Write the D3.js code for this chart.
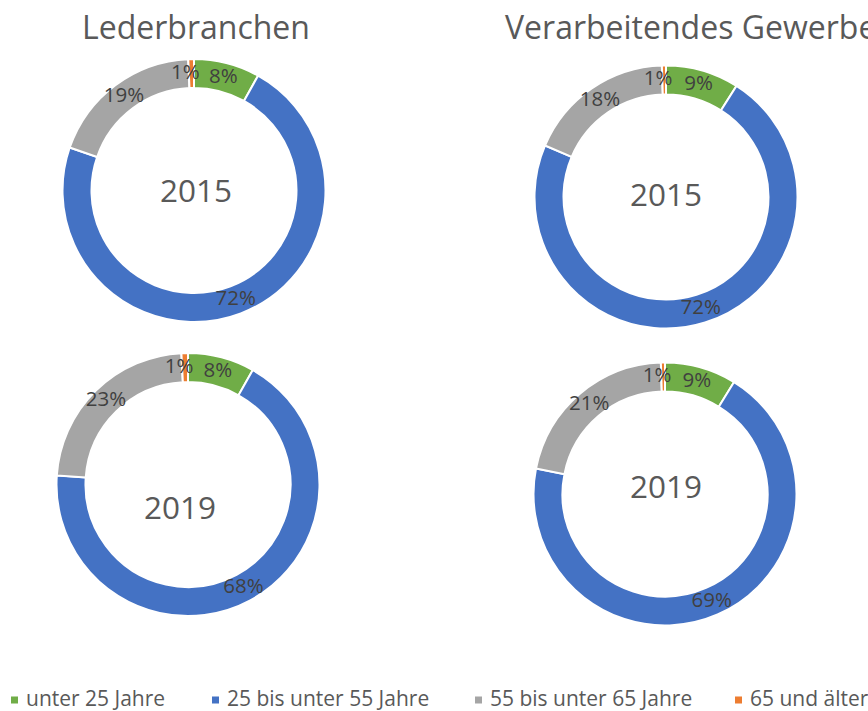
<!DOCTYPE html>
<html lang="de">
<head>
<meta charset="utf-8">
<title>Altersstruktur</title>
<script src="https://d3js.org/d3.v7.min.js"></script>
<style>
  html, body { margin: 0; padding: 0; background: #fff; }
  svg { display: block; font-family: "Open Sans", sans-serif; }
</style>
</head>
<body>
<svg id="chart" width="868" height="711"></svg>
<script>
// age groups and shares (percent)
const groups = ["unter 25 Jahre", "25 bis unter 55 Jahre", "55 bis unter 65 Jahre", "65 und älter"];
const leder2015 = [8.1, 72.2, 19.0, 0.7];
const leder2019 = [8.2, 67.9, 23.1, 0.8];
const verarb2015 = [9.0, 72.4, 18.1, 0.5];
const verarb2019 = [8.8, 69.3, 21.4, 0.5];
const titles = ["Lederbranchen", "Verarbeitendes Gewerbe"];
const years = ["2015", "2019"];

const colors = d3.scaleOrdinal()
  .domain(groups)
  .range(["#70ad47", "#4472c4", "#a5a5a5", "#ed7d31"]);

const svg = d3.select("#chart");

// one panel per donut
const panels = [
  {values: leder2015, year: years[0], cx: 194, cy: 190.5, yx: 2, yy: 3},
  {values: verarb2015, year: years[0], cx: 666, cy: 197, yx: 0, yy: 1},
  {values: leder2019, year: years[1], cx: 188, cy: 484.5, yx: -8, yy: 26},
  {values: verarb2019, year: years[1], cx: 665, cy: 494, yx: 1, yy: -4}
];

const outerR = 131.5, innerR = 102.5;
const pie = d3.pie().sort(null).value(d => d.v);
const arc = d3.arc().innerRadius(innerR).outerRadius(outerR);
const pct = d3.format(".0%");

// column titles
svg.append("text")
  .attr("x", 196).attr("y", 30)
  .attr("text-anchor", "middle")
  .attr("dominant-baseline", "middle")
  .attr("font-size", 32)
  .attr("fill", "#595959")
  .text(titles[0]);
svg.append("text")
  .attr("x", 505).attr("y", 30)
  .attr("dominant-baseline", "middle")
  .attr("font-size", 32)
  .attr("fill", "#595959")
  .text(titles[1]);

panels.forEach(p => {
  const data = groups.map((g, i) => ({g: g, v: p.values[i]}));
  const g = svg.append("g").attr("transform", `translate(${p.cx},${p.cy})`);

  g.selectAll("path")
    .data(pie(data))
    .join("path")
    .attr("d", arc)
    .attr("fill", d => colors(d.data.g))
    .attr("stroke", "#fff")
    .attr("stroke-width", 2);

  g.selectAll("text.lbl")
    .data(pie(data))
    .join("text")
    .attr("class", "lbl")
    .attr("transform", d => {
      const c = arc.centroid(d);
      // the tiny last slice gets its label shifted left like the original
      if (d.data.g === groups[3]) c[0] -= 6;
      return `translate(${c[0]},${c[1]})`;
    })
    .attr("text-anchor", "middle")
    .attr("dominant-baseline", "middle")
    .attr("font-size", 20.5)
    .attr("fill", "#404040")
    .text(d => pct(d.data.v / 100));

  g.append("text")
    .attr("x", p.yx).attr("y", p.yy)
    .attr("text-anchor", "middle")
    .attr("dominant-baseline", "middle")
    .attr("font-size", 31.5)
    .attr("fill", "#595959")
    .text(p.year);
});

// legend
const legendX = [11, 212, 475, 735];
const legend = svg.append("g").selectAll("g")
  .data(groups)
  .join("g")
  .attr("transform", (d, i) => `translate(${legendX[i]},700)`);
legend.append("rect")
  .attr("x", 0).attr("y", -3.5)
  .attr("width", 7).attr("height", 7)
  .attr("fill", d => colors(d));
legend.append("text")
  .attr("x", 15).attr("y", 0)
  .attr("dominant-baseline", "middle")
  .attr("font-size", 21)
  .attr("fill", "#595959")
  .text(d => d);
</script>
</body>
</html>
